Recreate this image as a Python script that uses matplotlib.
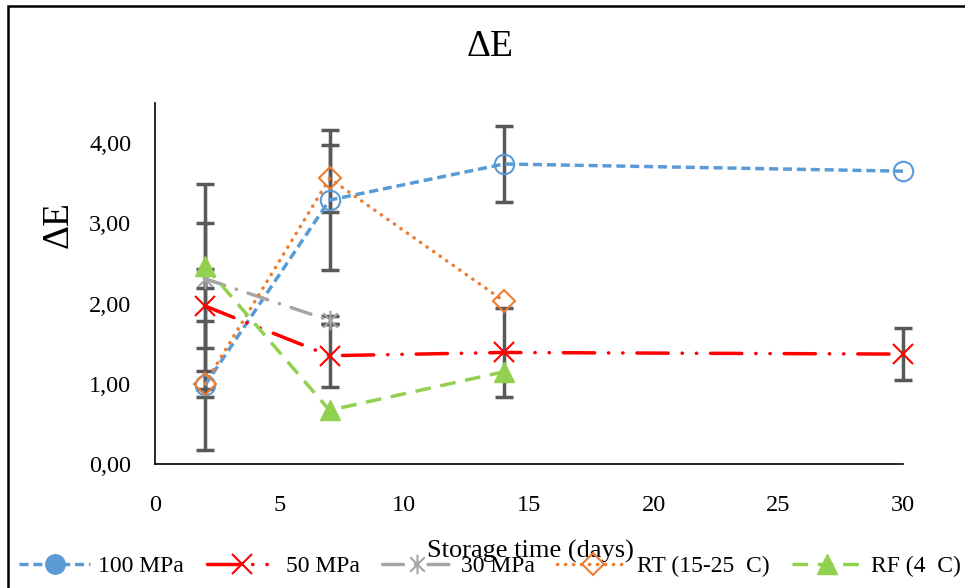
import numpy as np
import matplotlib
matplotlib.use("Agg")
import matplotlib.pyplot as plt
from matplotlib.lines import Line2D
from matplotlib.path import Path
from matplotlib.patches import Rectangle
from matplotlib.ticker import FuncFormatter

plt.rcParams['font.family'] = ['Liberation Serif', 'DejaVu Serif']

# data
days_100 = [2, 7, 14, 30]
de_100 = [0.98, 3.29, 3.74, 3.65]
err_100 = [0.80, 0.87, 0.47, 0.0]

days_50 = [2, 7, 14, 30]
de_50 = [1.97, 1.35, 1.39, 1.37]
err_50 = [1.03, 0.39, 0.55, 0.32]

days_30 = [2, 7]
de_30 = [2.31, 1.79]
err_30 = [0.12, 0.05]

days_rt = [2, 7, 14]
de_rt = [1.00, 3.56, 2.03]
err_rt = [0.16, 0.42, 0.0]

days_rf = [2, 7, 14]
de_rf = [2.47, 0.67, 1.15]
err_rf = [1.02, 0.0, 0.0]

labels = ['100 MPa', '50 MPa', '30 MPa', 'RT (15-25  C)', 'RF (4  C)']

# asterisk marker like excel's star
star = Path([(0, -1), (0, 1), (-0.75, -0.75), (0.75, 0.75), (-0.75, 0.75), (0.75, -0.75)],
            [Path.MOVETO, Path.LINETO, Path.MOVETO, Path.LINETO, Path.MOVETO, Path.LINETO])

fig = plt.figure(figsize=(9.65, 5.88), dpi=100)
ax = fig.add_axes([155/965, 1-464/588, 748/965, 361/588])

ecol = '#595959'


def err(ax, x, y, e):
    x = np.array(x); y = np.array(y); e = np.array(e)
    m = e > 0
    bars = ax.errorbar(x[m], y[m], yerr=e[m], fmt='none', ecolor=ecol, elinewidth=2.5,
                       capsize=6.5, capthick=2.5, zorder=2)
    for art in bars.get_children():
        art.set_clip_on(False)


err(ax, days_100, de_100, err_100)
err(ax, days_50, de_50, err_50)
err(ax, days_30, de_30, err_30)
err(ax, days_rt, de_rt, err_rt)
err(ax, days_rf, de_rf, err_rf)

ax.plot(days_100, de_100, color='#5B9BD5', lw=2.5, dashes=(2.6, 1.4), clip_on=False,
        marker='o', ms=14, mfc='none', mec='#5B9BD5', mew=1.5, zorder=3)
ax.plot(days_50, de_50, color='#FF0000', lw=2.5, dashes=(9, 4, 0.1, 4, 0.1, 4), clip_on=False,
        dash_capstyle='round', marker='x', ms=14, mew=1.5, zorder=3)
ax.plot(days_30, de_30, color='#A5A5A5', lw=2.5, dashes=(6, 3.5, 0.1, 3.5),
        dash_capstyle='round', marker=star, ms=14, mew=1.5, zorder=3)
ax.plot(days_rt, de_rt, color='#ED7D31', lw=2.5, dashes=(0.1, 2.2),
        dash_capstyle='round', marker='D', ms=11, mfc='none', mec='#ED7D31', mew=1.5, zorder=3)
ax.plot(days_rf, de_rf, color='#92D050', lw=2.5, dashes=(4.5, 2.8),
        marker='^', ms=14, mec='#92D050', zorder=3)

ax.set_xlim(0, 30)
ax.set_ylim(0, 4.5)
ax.set_xticks([0, 5, 10, 15, 20, 25, 30])
ax.set_yticks([0, 1, 2, 3, 4])
ax.yaxis.set_major_formatter(FuncFormatter(lambda v, p: f'{v:.2f}'.replace('.', ',')))
ax.tick_params(length=0, labelsize=17.5)
ax.tick_params(axis='x', pad=22)
ax.tick_params(axis='y', pad=17)
for s in ['top', 'right']:
    ax.spines[s].set_visible(False)
ax.spines['left'].set_color('black')
ax.spines['bottom'].set_color('black')
ax.spines['left'].set_linewidth(1.2)
ax.spines['bottom'].set_linewidth(1.2)

fig.text(490/965, 1-47/588, 'ΔE', fontsize=27, ha='center', va='center')
fig.text(58/965, 1-225/588, 'ΔE', fontsize=27, ha='center', va='center', rotation=90)
fig.text(530/965, 1-551/588, 'Storage time (days)', fontsize=19, ha='center', va='center')

handles = [
    Line2D([], [], color='#5B9BD5', lw=2.5, dashes=(2.6, 1.4), marker='o', ms=14, mec='#5B9BD5'),
    Line2D([], [], color='#FF0000', lw=2.5, dashes=(9, 4, 0.1, 4, 0.1, 4), dash_capstyle='round',
           marker='x', ms=14, mew=1.5),
    Line2D([], [], color='#A5A5A5', lw=2.5, dashes=(6, 3.5, 0.1, 3.5), dash_capstyle='round',
           marker=star, ms=14, mew=1.5),
    Line2D([], [], color='#ED7D31', lw=2.5, dashes=(0.1, 2.2), dash_capstyle='round',
           marker='D', ms=11, mfc='none', mec='#ED7D31', mew=1.5),
    Line2D([], [], color='#92D050', lw=2.5, dashes=(4.5, 2.8), marker='^', ms=14, mec='#92D050'),
]
fig.legend(handles, labels, loc='center', bbox_to_anchor=(490/965, 1-566/588), ncol=5,
           frameon=False, fontsize=17, handlelength=3.0, handletextpad=0.35,
           columnspacing=0.95, borderaxespad=0)

fig.patches.append(Rectangle((8/965, -0.1), 1.2, 1.09, transform=fig.transFigure,
                             fill=False, edgecolor='black', lw=1.8, zorder=-1))

fig.savefig('out.png', dpi=100)
